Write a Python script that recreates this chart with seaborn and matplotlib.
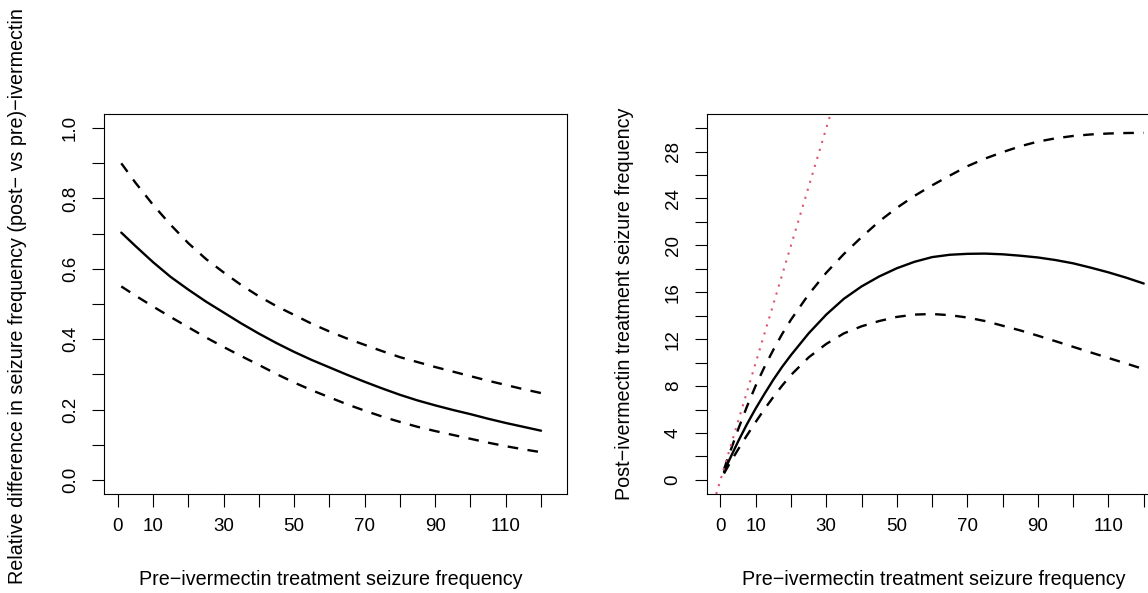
import matplotlib
matplotlib.use("Agg")
import matplotlib.pyplot as plt
import seaborn as sns
import pandas as pd

# ---- data ----
# left panel: relative difference (post vs pre)
pre_left = [1, 5, 10, 15, 20, 25, 30, 35, 40, 45, 50, 55, 60, 65, 70, 75, 80, 85, 90, 95, 100, 105, 110, 115, 120]
rel_fit = [0.703, 0.665, 0.619, 0.577, 0.541, 0.507, 0.476, 0.445, 0.416, 0.389, 0.364, 0.341, 0.320, 0.299,
           0.279, 0.260, 0.242, 0.226, 0.212, 0.199, 0.187, 0.174, 0.162, 0.151, 0.140]
rel_upper = [0.900, 0.845, 0.782, 0.725, 0.673, 0.628, 0.590, 0.554, 0.522, 0.494, 0.469, 0.444, 0.422, 0.402,
             0.384, 0.366, 0.349, 0.335, 0.321, 0.308, 0.295, 0.282, 0.270, 0.258, 0.247]
rel_lower = [0.550, 0.524, 0.493, 0.463, 0.434, 0.405, 0.378, 0.352, 0.327, 0.301, 0.277, 0.255, 0.235, 0.215,
             0.197, 0.180, 0.165, 0.151, 0.139, 0.128, 0.117, 0.106, 0.096, 0.087, 0.079]

# right panel: post-treatment seizure frequency
pre_right = [1, 2.5, 5, 7.5, 10, 12.5, 15, 17.5, 20, 25, 30, 35, 40, 45, 50, 55, 60, 65, 70, 75, 80, 85, 90,
             95, 100, 105, 110, 115, 120]
post_fit = [0.70, 1.70, 3.28, 4.75, 6.10, 7.35, 8.55, 9.65, 10.65, 12.5, 14.1, 15.45, 16.5, 17.35, 18.05, 18.6,
            19.0, 19.2, 19.28, 19.3, 19.24, 19.12, 18.97, 18.75, 18.47, 18.1, 17.7, 17.25, 16.75]
post_upper = [0.90, 2.2, 4.3, 6.25, 8.05, 9.65, 11.1, 12.45, 13.67, 15.82, 17.67, 19.27, 20.7, 22.05, 23.2, 24.22,
              25.12, 25.95, 26.75, 27.4, 27.95, 28.45, 28.85, 29.13, 29.33, 29.46, 29.54, 29.58, 29.6]
post_lower = [0.55, 1.35, 2.6, 3.8, 4.95, 6.05, 7.08, 8.05, 8.95, 10.45, 11.6, 12.5, 13.1, 13.55, 13.9, 14.1,
              14.15, 14.05, 13.85, 13.55, 13.15, 12.75, 12.3, 11.83, 11.35, 10.87, 10.4, 9.93, 9.45]

x_ticks = list(range(0, 121, 10))
x_ticklabels = ["0", "10", "", "30", "", "50", "", "70", "", "90", "", "110", ""]
left_yticks = [i / 10 for i in range(0, 11)]
left_yticklabels = ["0.0", "", "0.2", "", "0.4", "", "0.6", "", "0.8", "", "1.0"]
right_yticks = list(range(0, 31, 2))
right_yticklabels = [str(v) if v % 4 == 0 and v <= 28 else "" for v in right_yticks]

xlab = "Pre\u2212ivermectin treatment seizure frequency"
ylab_left = "Relative difference in seizure frequency (post\u2212 vs pre)\u2212ivermectin"
ylab_right = "Post\u2212ivermectin treatment seizure frequency"

left_df = pd.DataFrame({"pre": pre_left, "fit": rel_fit, "upper": rel_upper, "lower": rel_lower})
right_df = pd.DataFrame({"pre": pre_right, "fit": post_fit, "upper": post_upper, "lower": post_lower})

sns.set_theme(style="white")
plt.rcParams["font.family"] = ["Liberation Sans", "DejaVu Sans"]
plt.rcParams["axes.unicode_minus"] = True

FS_TICK = 13.5
FS_LAB = 14.2
fig = plt.figure(figsize=(11.48, 5.93), dpi=100)
axL = fig.add_axes([0.0906, 0.1669, 0.4031, 0.6408])
axR = fig.add_axes([0.6156, 0.1669, 0.4031, 0.6408])

dash = (0, (4.5, 4))
for ax, df in ((axL, left_df), (axR, right_df)):
    sns.lineplot(data=df, x="pre", y="fit", ax=ax, color="black", lw=1.7, estimator=None)
    sns.lineplot(data=df, x="pre", y="upper", ax=ax, color="black", lw=1.7, linestyle=dash, estimator=None)
    sns.lineplot(data=df, x="pre", y="lower", ax=ax, color="black", lw=1.7, linestyle=dash, estimator=None)

axR.axline((0, 0), slope=1, color="#DF536B", lw=1.5, linestyle=(0, (1, 3)))

for ax in (axL, axR):
    ax.set_xlim(-3.9, 127.3)
    ax.set_xticks(x_ticks)
    ax.set_xticklabels(x_ticklabels, fontsize=FS_TICK)
    for s in ax.spines.values():
        s.set_visible(True)
        s.set_color("black")
        s.set_linewidth(0.8)
    ax.tick_params(axis="both", direction="out", length=9, width=0.8, color="black",
                   labelsize=FS_TICK, labelcolor="black", left=True, bottom=True)
    ax.tick_params(axis="x", pad=8)
    ax.tick_params(axis="y", pad=9)
    ax.set_xlabel(xlab, fontsize=FS_LAB, color="black", va="center")
    ax.xaxis.set_label_coords(0.49, -0.2237)
    ax.grid(False)

axL.set_ylim(-0.04, 1.04)
axL.set_yticks(left_yticks)
axL.set_yticklabels(left_yticklabels, rotation=90, va="center", fontsize=FS_TICK)
axL.set_ylabel(ylab_left, fontsize=FS_LAB, color="black", va="center")
axL.yaxis.set_label_coords(-0.188, 0.52)

axR.set_ylim(-1.2, 31.2)
axR.set_yticks(right_yticks)
axR.set_yticklabels(right_yticklabels, rotation=90, va="center", fontsize=FS_TICK)
axR.set_ylabel(ylab_right, fontsize=FS_LAB, color="black", va="center")
axR.yaxis.set_label_coords(-0.1766, 0.5)

fig.savefig("out.png", dpi=100, facecolor="white")
